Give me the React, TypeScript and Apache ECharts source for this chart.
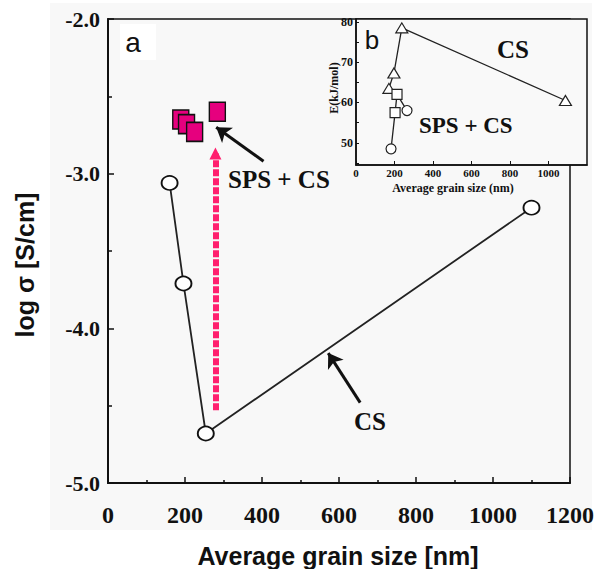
import React, { useEffect, useRef } from "react";
import * as echarts from "echarts";

// Main panel (a): log conductivity vs average grain size
const csGrain = [160, 196, 254, 1100];
const csLogSigma = [-3.06, -3.71, -4.68, -3.22];
const spsGrain = [189, 204, 225, 284];
const spsLogSigma = [-2.65, -2.68, -2.73, -2.6];

// Inset panel (b): activation energy vs average grain size
const insetCsGrain = [171, 197, 238, 1088];
const insetCsE = [63.5, 67.3, 78.5, 60.5];
const insetSpsGrain = [182, 203, 213, 265];
const insetSpsE = [48.5, 57.5, 62, 58];
const insetSpsShape = ["circle", "rect", "rect", "circle"];

// Annotation arrows in data units of panel (a)
const pinkArrow = [[279, -4.53], [279, -2.87]];
const spsArrow = [[404, -2.92], [281, -2.7]];
const csArrow = [[655, -4.48], [572, -4.16]];

const SERIF = "'Liberation Serif', 'DejaVu Serif', serif";
const SANS = "'Liberation Sans', Arial, sans-serif";

export default function App() {
  const ref = useRef<HTMLDivElement>(null);
  useEffect(() => {
    if (!ref.current) return;
    const chart = echarts.init(ref.current, null, { renderer: "svg" });
    const axisLineStyle = { color: "#111", width: 2 };
    chart.setOption({
      animation: false,
      backgroundColor: "#ffffff",
      grid: [
        { left: 108, top: 19, right: 10, bottom: 86, show: true, borderColor: "#111", borderWidth: 1.5, backgroundColor: "transparent" },
        { left: 356, top: 19, right: 10, bottom: 404, show: true, borderColor: "#111", borderWidth: 1.5, backgroundColor: "#f9f9f9", z: 3 },
      ],
      xAxis: [
        {
          gridIndex: 0, type: "value", min: 0, max: 1200, interval: 200,
          axisLine: { lineStyle: axisLineStyle },
          axisTick: { inside: true, length: 6, lineStyle: { color: "#111", width: 1.5 } },
          minorTick: { show: true, splitNumber: 2, length: 3, lineStyle: { color: "#111", width: 1.5 } },
          splitLine: { show: false },
          axisLabel: { color: "#111", fontFamily: SERIF, fontWeight: "bold", fontSize: 24, margin: 20, formatter: (v: number) => String(v) },
        },
        {
          gridIndex: 1, type: "value", min: 0, max: 1200, interval: 200, z: 4,
          axisLine: { lineStyle: { color: "#111", width: 1.5 } },
          axisTick: { inside: true, length: 4, lineStyle: { color: "#111" } },
          splitLine: { show: false },
          axisLabel: { color: "#111", fontFamily: SERIF, fontWeight: "bold", fontSize: 11, margin: 2, showMaxLabel: false, formatter: (v: number) => String(v) },
        },
      ],
      yAxis: [
        {
          gridIndex: 0, type: "value", min: -5, max: -2, interval: 1,
          axisLine: { lineStyle: axisLineStyle },
          axisTick: { inside: true, length: 6, lineStyle: { color: "#111", width: 1.5 } },
          minorTick: { show: true, splitNumber: 2, length: 4, lineStyle: { color: "#111", width: 1.5 } },
          splitLine: { show: false },
          axisLabel: { color: "#111", fontFamily: SERIF, fontWeight: "bold", fontSize: 22, margin: 8, formatter: (v: number) => v.toFixed(1) },
        },
        {
          gridIndex: 1, type: "value", min: 44.5, max: 80.7, splitNumber: 7, z: 4,
          axisLine: { lineStyle: { color: "#111", width: 1.5 } },
          axisTick: { inside: true, length: 3, lineStyle: { color: "#111" } },
          splitLine: { show: false },
          axisLabel: {
            color: "#111", fontFamily: SERIF, fontWeight: "bold", fontSize: 12, margin: 3,
            showMinLabel: false, showMaxLabel: false,
            formatter: (v: number) => (Math.abs(v % 10) < 1e-6 ? String(v) : ""),
          },
        },
      ],
      series: [
        {
          type: "line", xAxisIndex: 0, yAxisIndex: 0, z: 3,
          data: csGrain.map((x, i) => [x, csLogSigma[i]]),
          symbol: "circle", symbolSize: [16, 14], showAllSymbol: true,
          lineStyle: { color: "#222", width: 1.8 },
          itemStyle: { color: "#ffffff", borderColor: "#111", borderWidth: 1.8 },
        },
        {
          type: "scatter", xAxisIndex: 0, yAxisIndex: 0, z: 4,
          data: spsGrain.map((x, i) => [x, spsLogSigma[i]]),
          symbol: "rect", symbolSize: [16, 19],
          itemStyle: { color: "#e6007e", borderColor: "#111", borderWidth: 1.5, opacity: 1 },
        },
        {
          type: "lines", coordinateSystem: "cartesian2d", xAxisIndex: 0, yAxisIndex: 0, z: 2,
          symbol: ["none", "triangle"], symbolSize: [14, 12],
          lineStyle: { color: "#ff1f6e", width: 6, type: [7, 2], opacity: 1 },
          data: [{ coords: pinkArrow }],
        },
        {
          type: "lines", coordinateSystem: "cartesian2d", xAxisIndex: 0, yAxisIndex: 0, z: 2,
          symbol: ["none", "arrow"], symbolSize: [12, 14],
          lineStyle: { color: "#111", width: 3, opacity: 1 },
          data: [{ coords: spsArrow }, { coords: csArrow }],
        },
        {
          type: "line", xAxisIndex: 1, yAxisIndex: 1, z: 5,
          data: insetCsGrain.map((x, i) => [x, insetCsE[i]]),
          symbol: "triangle", symbolSize: [12, 10], showAllSymbol: true,
          lineStyle: { color: "#222", width: 1.3 },
          itemStyle: { color: "#ffffff", borderColor: "#222", borderWidth: 1.2 },
        },
        {
          type: "line", xAxisIndex: 1, yAxisIndex: 1, z: 5,
          data: insetSpsGrain.map((x, i) => ({ value: [x, insetSpsE[i]], symbol: insetSpsShape[i] })),
          symbolSize: 10, showAllSymbol: true,
          lineStyle: { color: "#222", width: 1.3 },
          itemStyle: { color: "#ffffff", borderColor: "#222", borderWidth: 1.2 },
        },
      ],
      graphic: [
        { type: "rect", z: -10, shape: { x: 50, y: 3, width: 542, height: 527 }, style: { fill: "#f8f8f8" } },
        { type: "rect", z: -5, shape: { x: 120, y: 24, width: 36, height: 36 }, style: { fill: "#ffffff" } },
        { type: "text", z: 100, x: 133, y: 42, style: { text: "a", font: `28px ${SANS}`, fill: "#111", align: "center", verticalAlign: "middle" } },
        { type: "text", z: 100, x: 372, y: 40, style: { text: "b", font: `26px ${SANS}`, fill: "#111", align: "center", verticalAlign: "middle" } },
        { type: "text", z: 100, x: 228, y: 179, style: { text: "SPS + CS", font: `bold 25px ${SERIF}`, fill: "#111", align: "left", verticalAlign: "middle" } },
        { type: "text", z: 100, x: 370, y: 421, style: { text: "CS", font: `bold 25px ${SERIF}`, fill: "#111", align: "center", verticalAlign: "middle" } },
        { type: "text", z: 100, x: 513, y: 49, style: { text: "CS", font: `bold 25px ${SERIF}`, fill: "#111", align: "center", verticalAlign: "middle" } },
        { type: "text", z: 100, x: 419, y: 125, style: { text: "SPS + CS", font: `bold 23px ${SERIF}`, fill: "#111", align: "left", verticalAlign: "middle" } },
        { type: "text", z: 100, x: 453, y: 188, style: { text: "Average grain size (nm)", font: `bold 12px ${SERIF}`, fill: "#111", align: "center", verticalAlign: "middle" } },
        { type: "text", z: 100, x: 334, y: 88, rotation: Math.PI / 2, style: { text: "E(kJ/mol)", font: `bold 12px ${SERIF}`, fill: "#111", align: "center", verticalAlign: "middle" } },
        { type: "text", z: 100, x: 338, y: 556, style: { text: "Average grain size [nm]", font: `bold 25px ${SANS}`, fill: "#111", align: "center", verticalAlign: "middle" } },
        { type: "text", z: 100, x: 25, y: 265, rotation: Math.PI / 2, style: { text: "log σ [S/cm]", font: `bold 25px ${SANS}`, fill: "#111", align: "center", verticalAlign: "middle" } },
      ],
    });
    return () => chart.dispose();
  }, []);
  return <div ref={ref} style={{ position: "fixed", left: 0, top: 0, width: 597, height: 569 }} />;
}
